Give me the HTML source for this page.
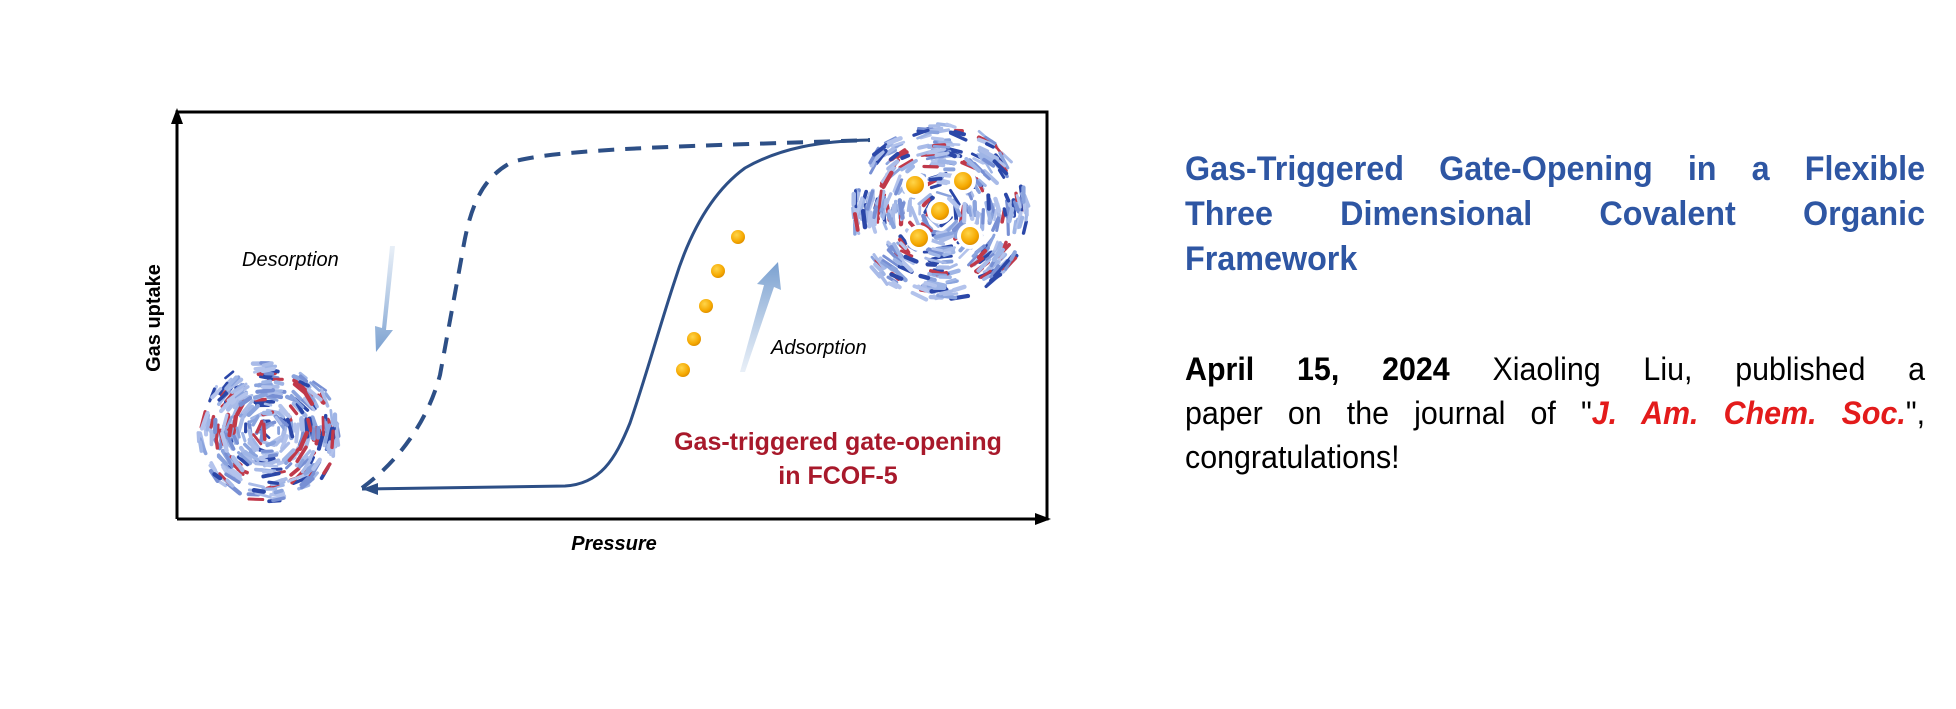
<!DOCTYPE html>
<html><head><meta charset="utf-8"><style>
html,body{margin:0;padding:0;background:#fff;}
body{width:1956px;height:709px;position:relative;overflow:hidden;font-family:"Liberation Sans",Arial,sans-serif;}
.t{position:absolute;left:1185px;width:779px;transform:scaleX(0.95);transform-origin:0 0;}
.t div{text-align:justify;text-align-last:justify;white-space:nowrap;}
.t div.l{text-align-last:left;}
#title{top:147px;color:#2e56a3;font-weight:bold;font-size:34px;line-height:45px;}
#body{top:347px;color:#000;font-size:32px;line-height:44px;}
</style></head><body>
<svg id="fig" width="1956" height="709" style="position:absolute;left:0;top:0">
<defs>
<linearGradient id="ga" x1="0" y1="1" x2="0" y2="0"><stop offset="0" stop-color="#8fb0d8" stop-opacity="0.2"/><stop offset="1" stop-color="#7aa0d0"/></linearGradient>
<linearGradient id="gd" x1="0" y1="0" x2="0" y2="1"><stop offset="0" stop-color="#8fb0d8" stop-opacity="0.2"/><stop offset="1" stop-color="#7aa0d0"/></linearGradient>
<radialGradient id="ball" cx="0.4" cy="0.35" r="0.7"><stop offset="0" stop-color="#ffd54a"/><stop offset="0.7" stop-color="#f5a800"/><stop offset="1" stop-color="#d98a00"/></radialGradient>
</defs>
<path d="M177,519 L177,112 L1047,112 L1047,519 L177,519" fill="none" stroke="#000" stroke-width="3"/>
<path d="M171,124 L177,108 L183,124 z" fill="#000"/>
<path d="M1035,513 L1051,519 L1035,525 z" fill="#000"/>
<text x="0" y="0" transform="translate(160,318) rotate(-90)" text-anchor="middle" font-family="Liberation Sans,sans-serif" font-weight="bold" font-size="20">Gas uptake</text>
<text x="614" y="550" text-anchor="middle" font-family="Liberation Sans,sans-serif" font-weight="bold" font-style="italic" font-size="20">Pressure</text>
<path d="M362,488 C400,460 428,420 440,375 L462,255 C470,205 482,178 512,162 C560,148 700,146 870,140" fill="none" stroke="#2d4f86" stroke-width="4" stroke-dasharray="16,11"/>
<path d="M362,489 L565,486 C600,484 615,460 630,423 C648,370 660,325 675,280 C690,232 712,192 745,168 C780,148 820,141 870,140" fill="none" stroke="#2d4f86" stroke-width="3"/>
<path d="M362,489 L378,483 L378,495 z" fill="#2d4f86"/>
<path d="M395,246 L386,330 L393,330 L376,352 L375,326 L382,328 L390,246 z" fill="url(#gd)"/>
<path d="M740,372 L764,285 L757,284 L778,262 L781,290 L774,287 L745,372 z" fill="url(#ga)"/>
<text x="242" y="266" font-family="Liberation Sans,sans-serif" font-style="italic" font-size="20">Desorption</text>
<text x="771" y="354" font-family="Liberation Sans,sans-serif" font-style="italic" font-size="20">Adsorption</text>
<text x="838" y="450" text-anchor="middle" fill="#a8192b" font-family="Liberation Sans,sans-serif" font-weight="bold" font-size="25">Gas-triggered gate-opening</text>
<text x="838" y="484" text-anchor="middle" fill="#a8192b" font-family="Liberation Sans,sans-serif" font-weight="bold" font-size="25">in FCOF-5</text>
<g fill="url(#ball)">
<circle cx="683" cy="370" r="7"/><circle cx="694" cy="339" r="7"/><circle cx="706" cy="306" r="7"/><circle cx="718" cy="271" r="7"/><circle cx="738" cy="237" r="7"/>
</g>
<g id="m1"></g><g id="m2"></g>
<g fill="url(#ball)">
<circle cx="915" cy="185" r="9"/><circle cx="963" cy="181" r="9"/><circle cx="940" cy="211" r="9"/><circle cx="919" cy="238" r="9"/><circle cx="970" cy="236" r="9"/>
</g>
</svg>
<div class="t" id="title"><div>Gas-Triggered Gate-Opening in a Flexible</div><div>Three Dimensional Covalent Organic</div><div class="l">Framework</div></div>
<div class="t" id="body"><div><b>April 15, 2024</b> Xiaoling Liu, published a</div><div>paper on the journal of "<b><i style="color:#e31b1b">J. Am. Chem. Soc.</i></b>",</div><div class="l">congratulations!</div></div>
<script>
(function(){
var s=12345;function r(){s=(s*16807)%2147483647;return s/2147483647;}
var ns="http://www.w3.org/2000/svg";
function mol(id,cx,cy,R,n){
 var g=document.getElementById(id);
 var cols=["#9fb5e6","#8aa3dd","#b3c3ec","#7890d4","#2b47a8","#c0394a","#a9bbe8"];
 for(var i=0;i<n;i++){
  var arm=Math.floor(r()*8), a=arm*Math.PI/4+(r()-0.5)*0.5, d=Math.sqrt(r())*R;
  var x=cx+Math.cos(a)*d, y=cy+Math.sin(a)*d;
  var b=a+Math.PI/2+(r()-0.5)*0.5, L=6+r()*12;
  var l=document.createElementNS(ns,"line");
  l.setAttribute("x1",x-Math.cos(b)*L/2);l.setAttribute("y1",y-Math.sin(b)*L/2);
  l.setAttribute("x2",x+Math.cos(b)*L/2);l.setAttribute("y2",y+Math.sin(b)*L/2);
  l.setAttribute("stroke",cols[Math.floor(r()*cols.length)]);l.setAttribute("stroke-width",2.5+r()*2);l.setAttribute("stroke-linecap","round");
  g.appendChild(l);
 }
}
mol("m1",268,432,70,380);
mol("m2",940,212,88,480);
var w=document.getElementById("m2");
[[915,185],[963,181],[940,211],[919,238],[970,236]].forEach(function(p){
 var c=document.createElementNS(ns,"circle");c.setAttribute("cx",p[0]);c.setAttribute("cy",p[1]);c.setAttribute("r",13);c.setAttribute("fill","#fff");w.appendChild(c);
});
})();
</script>
</body></html>
